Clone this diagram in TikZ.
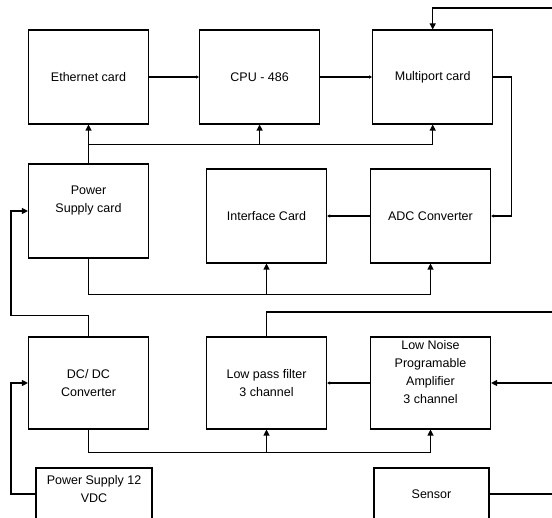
\documentclass[tikz,border=0pt]{standalone}
\usepackage{fontspec}
\setmainfont{Liberation Sans}
\usetikzlibrary{arrows.meta, positioning}

\begin{document}
\begin{tikzpicture}[
  x=1pt, y=-1pt,
  box/.style={draw, line width=1.1pt, minimum width=120pt, minimum height=94pt,
              align=center, inner sep=0pt, font=\fontsize{12.5}{18}\selectfont},
  arr/.style={-{Triangle[length=6pt, width=6pt]}, line width=1.1pt},
  sarr/.style={-{Triangle[length=3pt, width=3pt]}, line width=1.1pt},
  wire/.style={line width=1.1pt},
]
\useasboundingbox (0,0) rectangle (552,518);
\clip (0,0) rectangle (552,518);

% computer rack
\node[box] (eth) at (88.5,77) {Ethernet card};
\node[box, right=50pt of eth] (cpu) {CPU - 486};
\node[box, right=52pt of cpu] (mp) {Multiport card};

\node[box, label={[font=\fontsize{12.5}{18}\selectfont, align=center, yshift=10pt]center:Power\\Supply card}] (psc) at (88.5,211) {};
\node[box] (intf) at (266.5,216) {Interface Card};
\node[box] (adc) at (430.5,216) {ADC Converter};

% analog front end
\node[box, minimum height=92pt] (dcdc) at (88.5,383) {DC/ DC\\Converter};
\node[box, minimum height=92pt] (lpf) at (266.5,383) {Low pass filter\\3 channel};
\node[box, minimum height=92pt, label={[font=\fontsize{12.5}{18}\selectfont, align=center, yshift=11pt]center:Low Noise\\Programable\\Amplifier\\3 channel}] (lnpa) at (430.5,383) {};

\node[box, minimum width=116pt, minimum height=52pt, text depth=10pt] (ps12) at (94,494) {Power Supply 12\\VDC};
\node[box, minimum width=115pt, minimum height=52pt] (sensor) at (431.5,494) {Sensor};

% lines leaving the picture
\coordinate (topin) at (560,8);
\coordinate (lpfout) at (560,312);
\coordinate (lnpain) at (560,383);
\coordinate (sensout) at (560,494);

\draw[sarr] (eth) -- (cpu);
\draw[sarr] (cpu) -- (mp);
\draw[arr] (topin) -| (mp.north);
\draw[sarr] (mp.east) -- ++(18,0) |- (adc.east);
\draw[sarr] (adc) -- (intf);

% power buses
\draw[arr] (psc.north) -- (eth.south);
\draw[arr] ([yshift=19pt]psc.north) -| (cpu.south);
\draw[arr] ([yshift=19pt]psc.north) -| (mp.south);

\draw[arr] (psc.south) -- ++(0,36) -| (intf.south);
\draw[arr] (psc.south) -- ++(0,36) -| (adc.south);

\draw[arr] (dcdc.north) -- ++(0,-21) -| ([xshift=-17pt]psc.west) -- (psc.west);
\draw[arr] (dcdc.south) -- ++(0,23) -| (lpf.south);
\draw[arr] (dcdc.south) -- ++(0,23) -| (lnpa.south);
\draw[arr] (ps12.west) -| ([xshift=-17pt]dcdc.west) -- (dcdc.west);

% signal path
\draw[arr] (lnpain) -- (lnpa.east);
\draw[sarr] (lnpa) -- (lpf);
\draw[wire] (lpf.north) |- (lpfout);
\draw[wire] (sensor.east) -- (sensout);

\end{tikzpicture}
\end{document}
